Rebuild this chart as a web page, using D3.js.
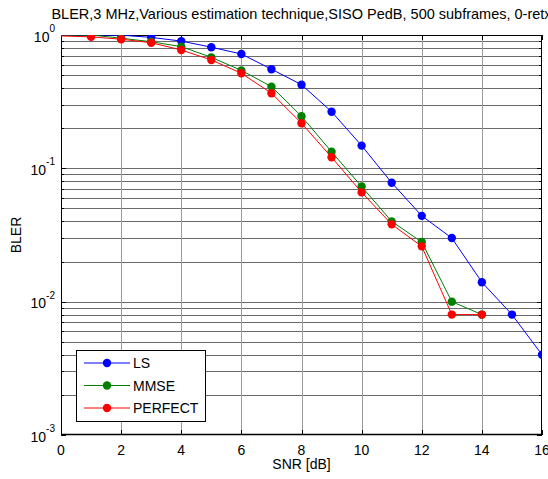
<!DOCTYPE html>
<html>
<head>
<meta charset="utf-8">
<script src="https://cdn.jsdelivr.net/npm/d3@7"></script>
<style>
  html, body { margin: 0; padding: 0; background: #fff; }
  svg text { font-family: "Liberation Sans", Arial, Helvetica, sans-serif; fill: #000; }
</style>
</head>
<body>
<svg id="chart" width="548" height="479"></svg>
<script>
// BLER versus SNR for three channel estimation techniques
const snrLS = [-1, 1, 2, 3, 4, 5, 6, 7, 8, 9, 10, 11, 12, 13, 14, 15, 16];
const blerLS = [1.0, 1.0, 0.996, 0.96, 0.90, 0.81, 0.72, 0.554, 0.424, 0.266, 0.148, 0.078, 0.044, 0.030, 0.014, 0.008, 0.004];

const snrMMSE = [-1, 1, 2, 3, 4, 5, 6, 7, 8, 9, 10, 11, 12, 13, 14];
const blerMMSE = [1.0, 1.0, 0.946, 0.89, 0.818, 0.68, 0.543, 0.41, 0.246, 0.133, 0.073, 0.040, 0.028, 0.010, 0.008];

const snrPerfect = [-1, 1, 2, 3, 4, 5, 6, 7, 8, 9, 10, 11, 12, 13, 14];
const blerPerfect = [1.0, 0.968, 0.93, 0.875, 0.772, 0.65, 0.516, 0.366, 0.218, 0.121, 0.066, 0.038, 0.026, 0.008, 0.008];

const seriesNames = ["LS", "MMSE", "PERFECT"];
const seriesColors = ["#0000ff", "#008000", "#ff0000"];

const xTickValues = [0, 2, 4, 6, 8, 10, 12, 14, 16];
const yDecades = [-3, -2, -1, 0];

const titleText = "BLER,3 MHz,Various estimation technique,SISO PedB, 500 subframes, 0-retx";
const xLabelText = "SNR [dB]";
const yLabelText = "BLER";

const series = [
  { name: seriesNames[0], color: seriesColors[0], pts: snrLS.map((s, i) => [s, blerLS[i]]) },
  { name: seriesNames[1], color: seriesColors[1], pts: snrMMSE.map((s, i) => [s, blerMMSE[i]]) },
  { name: seriesNames[2], color: seriesColors[2], pts: snrPerfect.map((s, i) => [s, blerPerfect[i]]) }
];

const pLeft = 61, pRight = 542, pTop = 35, pBottom = 435;
const svg = d3.select("#chart");
const x = d3.scaleLinear().domain([0, 16]).range([pLeft, pRight]);
const y = d3.scaleLog().domain([1e-3, 1]).range([pBottom, pTop]);

svg.append("defs").append("clipPath").attr("id", "plotClip")
  .append("rect").attr("x", pLeft).attr("y", pTop).attr("width", pRight - pLeft).attr("height", pBottom - pTop);

// grid
const grid = svg.append("g");
const minorVals = [];
yDecades.slice(0, -1).forEach(d => { for (let m = 1; m <= 9; m++) minorVals.push(m * Math.pow(10, d)); });
minorVals.push(1);
grid.selectAll("line.h").data(minorVals.filter(v => v > 1e-3 && v < 1)).enter().append("line")
  .attr("x1", pLeft).attr("x2", pRight)
  .attr("y1", d => Math.round(y(d)) + 0.5).attr("y2", d => Math.round(y(d)) + 0.5)
  .attr("stroke", "#6a6a6a").attr("stroke-width", 1);
grid.selectAll("line.v").data(xTickValues.filter(v => v > 0 && v < 16)).enter().append("line")
  .attr("y1", pTop).attr("y2", pBottom)
  .attr("x1", d => Math.round(x(d)) + 0.5).attr("x2", d => Math.round(x(d)) + 0.5)
  .attr("stroke", "#9a9a9a").attr("stroke-width", 1);

// axes frame and inward ticks
const frame = svg.append("g").attr("stroke", "#000").attr("stroke-width", 1);
frame.append("rect").attr("x", pLeft + 0.5).attr("y", pTop + 0.5)
  .attr("width", pRight - pLeft - 1).attr("height", pBottom - pTop - 1).attr("fill", "none");
xTickValues.forEach(v => {
  const px = Math.round(x(v)) + 0.5;
  frame.append("line").attr("x1", px).attr("x2", px).attr("y1", pBottom).attr("y2", pBottom - 5);
  frame.append("line").attr("x1", px).attr("x2", px).attr("y1", pTop).attr("y2", pTop + 5);
});
minorVals.forEach(v => {
  const py = Math.round(y(v)) + 0.5;
  const isMajor = Math.abs(Math.log10(v) - Math.round(Math.log10(v))) < 1e-9;
  const len = isMajor ? 5 : 3;
  frame.append("line").attr("x1", pLeft).attr("x2", pLeft + len).attr("y1", py).attr("y2", py);
  frame.append("line").attr("x1", pRight).attr("x2", pRight - len).attr("y1", py).attr("y2", py);
});
frame.append("line").attr("x1", pLeft).attr("x2", pRight).attr("y1", pBottom - 0.5).attr("y2", pBottom - 0.5).attr("stroke-width", 1.5);

// tick labels
svg.append("g").selectAll("text").data(xTickValues).enter().append("text")
  .attr("x", d => x(d)).attr("y", 455).attr("text-anchor", "middle")
  .attr("font-size", "14px").text(d => d);

const yLab = svg.append("g").selectAll("text").data(yDecades).enter().append("text")
  .attr("x", 55).attr("y", d => y(Math.pow(10, d)) + 6.5).attr("text-anchor", "end")
  .attr("font-size", "14px");
yLab.append("tspan").text("10");
yLab.append("tspan").attr("font-size", "10px").attr("dy", -9.5).text(d => d);

// titles
svg.append("text").attr("x", (pLeft + pRight) / 2).attr("y", 19).attr("text-anchor", "middle")
  .attr("font-size", "14.5px").text(titleText);
svg.append("text").attr("x", (pLeft + pRight) / 2).attr("y", 469).attr("text-anchor", "middle")
  .attr("font-size", "14px").text(xLabelText);
svg.append("text").attr("transform", `translate(20.5,${(pTop + pBottom) / 2}) rotate(-90)`)
  .attr("text-anchor", "middle").attr("font-size", "14px").text(yLabelText);

// series
const plot = svg.append("g").attr("clip-path", "url(#plotClip)");
const line = d3.line().x(d => x(d[0])).y(d => y(d[1]));
series.forEach(s => {
  const g = plot.append("g");
  g.append("path").attr("d", line(s.pts)).attr("fill", "none").attr("stroke", s.color).attr("stroke-width", 1);
  g.selectAll("circle").data(s.pts).enter().append("circle")
    .attr("cx", d => x(d[0])).attr("cy", d => y(d[1])).attr("r", 4.2).attr("fill", s.color);
});

// legend
const legend = svg.append("g");
legend.append("rect").attr("x", 76.5).attr("y", 350.5).attr("width", 129).attr("height", 71)
  .attr("fill", "#fff").attr("stroke", "#000").attr("stroke-width", 1);
series.forEach((s, i) => {
  const ly = 363 + i * 22.5;
  legend.append("line").attr("x1", 84).attr("x2", 130).attr("y1", ly).attr("y2", ly)
    .attr("stroke", s.color).attr("stroke-width", 1);
  legend.append("circle").attr("cx", 107).attr("cy", ly).attr("r", 4.2).attr("fill", s.color);
  legend.append("text").attr("x", 133).attr("y", ly + 5).attr("font-size", "14px").text(s.name);
});
</script>
</body>
</html>
